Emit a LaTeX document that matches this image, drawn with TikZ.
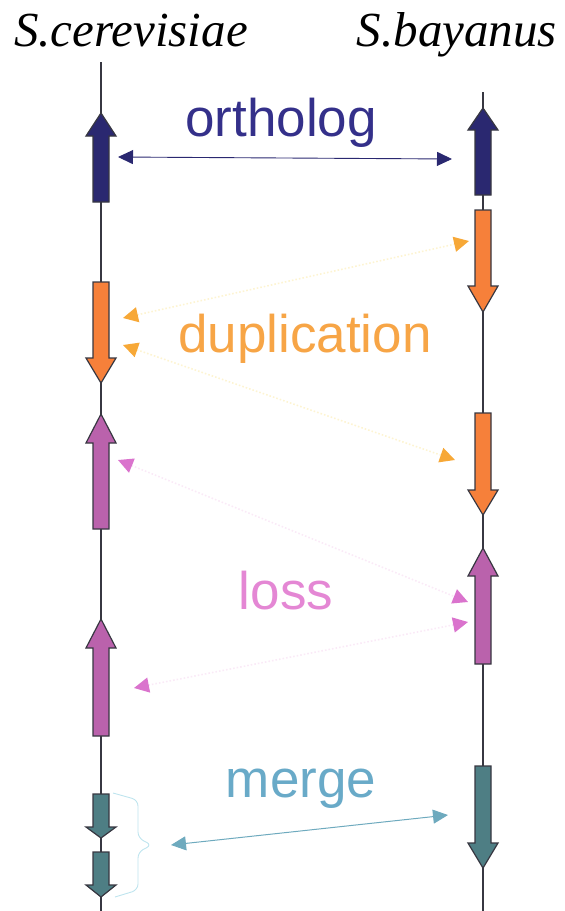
\documentclass[tikz,border=0pt]{standalone}
\usepackage{fontspec}
\setmainfont{Liberation Serif}
\newfontfamily\labelfont{Liberation Sans}
\newfontfamily\speciesfont{Liberation Serif}
\usetikzlibrary{arrows.meta}

% colours
\definecolor{axisgray}{RGB}{55,55,65}
\definecolor{navyfill}{RGB}{42,40,112}
\definecolor{navytext}{RGB}{52,48,138}
\definecolor{orangefill}{RGB}{246,128,58}
\definecolor{orangetext}{RGB}{247,165,70}
\definecolor{orangehead}{RGB}{247,168,55}
\definecolor{orangedots}{RGB}{253,244,210}
\definecolor{pinkfill}{RGB}{186,98,172}
\definecolor{pinktext}{RGB}{228,135,212}
\definecolor{pinkhead}{RGB}{218,115,205}
\definecolor{pinkdots}{RGB}{250,234,247}
\definecolor{tealfill}{RGB}{78,126,132}
\definecolor{mergetext}{RGB}{105,170,200}
\definecolor{mergeline}{RGB}{110,170,190}
\definecolor{bracecol}{RGB}{190,228,238}

\tikzset{
  axis/.style={draw=axisgray, line width=1.3pt},
  gene/.style={draw=axisgray, line width=1.2pt, line join=miter},
  species/.style={anchor=base, inner sep=0pt, font=\speciesfont\itshape\fontsize{49}{56}\selectfont},
  eventlabel/.style={anchor=base, inner sep=0pt, font=\labelfont\fontsize{53}{60}\selectfont},
  orthlink/.style={draw=navyfill, line width=0.9pt,
    {Triangle[length=15pt,width=14pt,color=navyfill]}-{Triangle[length=15pt,width=14pt,color=navyfill]}},
  duplink/.style={draw=orangedots, line width=1.6pt, dotted,
    {Triangle[length=15pt,width=15pt,color=orangehead]}-{Triangle[length=15pt,width=15pt,color=orangehead]}},
  losslink/.style={draw=pinkdots, line width=1.6pt, dotted,
    {Triangle[length=15pt,width=15pt,color=pinkhead]}-{Triangle[length=15pt,width=15pt,color=pinkhead]}},
  mergelink/.style={draw=mergeline, line width=1pt,
    {Triangle[length=15pt,width=14pt,color=mergeline]}-{Triangle[length=15pt,width=14pt,color=mergeline]}},
}

% gene arrow: x, tail y, head base y, tip y, fill colour
\newcommand\genearrow[5]{%
  \draw[gene, fill=#5] ({#1-8},#2) -- ({#1-8},#3) -- ({#1-15},#3) -- (#1,#4)
    -- ({#1+15},#3) -- ({#1+8},#3) -- ({#1+8},#2) -- cycle;}

\begin{document}
\begin{tikzpicture}[x=1pt,y=-1pt]
\useasboundingbox (0,0) rectangle (565,911);

% species names
\node[species] (sc) at (131,46) {S.cerevisiae};
\node[species] (sb) at (457,46) {S.bayanus};

% chromosomes
\coordinate (ltop) at (101,62);
\coordinate (lbot) at (101,911);
\coordinate (rtop) at (483,92);
\coordinate (rbot) at (483,911);
\draw[axis] (ltop) -- (lbot);
\draw[axis] (rtop) -- (rbot);

% genes on S.cerevisiae
\genearrow{101}{202}{136}{113}{navyfill}
\genearrow{101}{282}{358}{383}{orangefill}
\genearrow{101}{529}{443}{414}{pinkfill}
\genearrow{101}{736}{648}{619}{pinkfill}
\genearrow{101}{794}{827}{838}{tealfill}
\genearrow{101}{852}{885}{897}{tealfill}

% genes on S.bayanus
\genearrow{483}{195}{130}{108}{navyfill}
\genearrow{483}{210}{286}{312}{orangefill}
\genearrow{483}{413}{490}{515}{orangefill}
\genearrow{483}{664}{576}{548}{pinkfill}
\genearrow{483}{766}{843}{868}{tealfill}

% event labels
\node[eventlabel, text=navytext] (orth) at (281,136) {ortholog};
\node[eventlabel, text=orangetext] (dup) at (305,352) {duplication};
\node[eventlabel, text=pinktext] (loss) at (286,609) {loss};
\node[eventlabel, text=mergetext] (merge) at (301,797) {merge};

% link end points
\coordinate (o1) at (118,157);
\coordinate (o2) at (452,159);
\coordinate (d1l) at (123,318);
\coordinate (d1r) at (469,241);
\coordinate (d2l) at (123,345);
\coordinate (d2r) at (455,460);
\coordinate (l1l) at (118,460);
\coordinate (l1r) at (468,602);
\coordinate (l2l) at (134,688);
\coordinate (l2r) at (468,622);
\coordinate (m1) at (171,845);
\coordinate (m2) at (448,815);

% links
\draw[orthlink] (o1) -- (o2);
\draw[duplink] (d1l) -- (d1r);
\draw[duplink] (d2l) -- (d2r);
\draw[losslink] (l1l) -- (l1r);
\draw[losslink] (l2l) -- (l2r);
\draw[mergelink] (m1) -- (m2);

% brace grouping the two split genes
\draw[bracecol, line width=0.9pt, rounded corners=6pt]
  (113,793) -- (138,800) -- (138,838) -- (152,845) -- (138,852) -- (138,890) -- (115,897);
\end{tikzpicture}
\end{document}
